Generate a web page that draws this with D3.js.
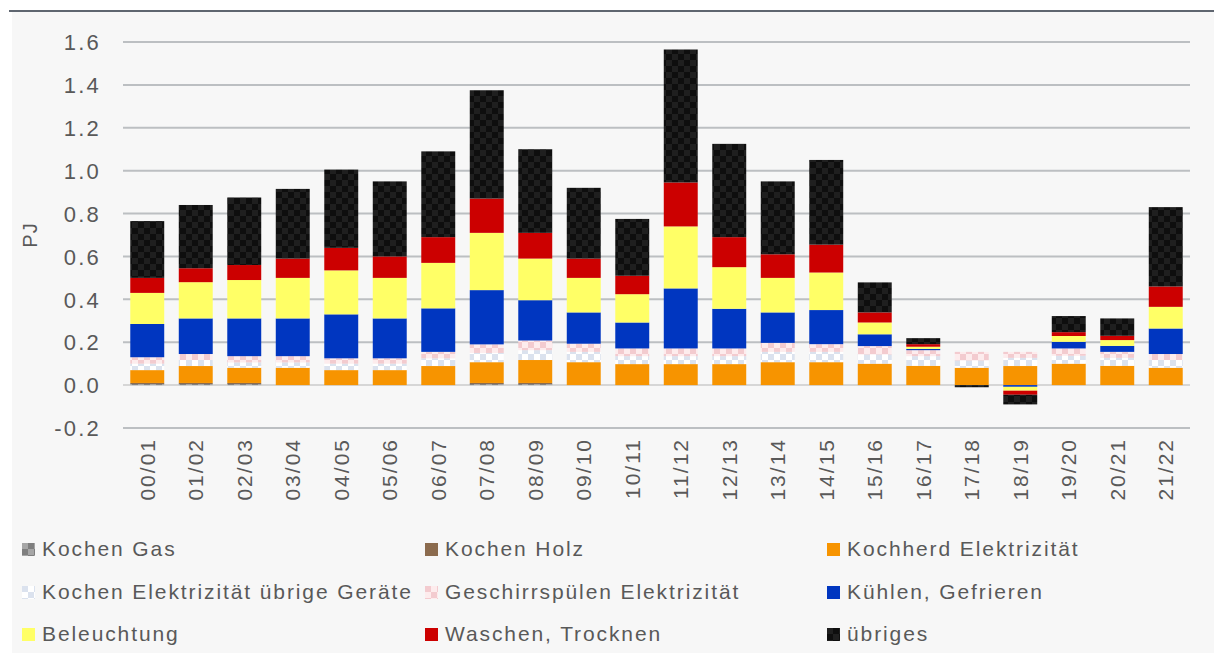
<!DOCTYPE html>
<html><head><meta charset="utf-8">
<script src="https://cdn.jsdelivr.net/npm/d3@7"></script>
<style>
html,body{margin:0;padding:0;background:#fff;}
svg{display:block;}
text{font-family:"Liberation Sans","Noto Sans",sans-serif;fill:#595959;}
</style></head>
<body>
<svg id="c" width="1214" height="653"></svg>
<script>
const categories = ["00/01","01/02","02/03","03/04","04/05","05/06","06/07","07/08","08/09","09/10","10/11","11/12","12/13","13/14","14/15","15/16","16/17","17/18","18/19","19/20","20/21","21/22"];
const seriesNames = ["Kochen Gas","Kochen Holz","Kochherd Elektrizität","Kochen Elektrizität übrige Geräte","Geschirrspülen Elektrizität","Kühlen, Gefrieren","Beleuchtung","Waschen, Trocknen","übriges"];
const kochenGas      = [0.005,0.005,0.005,0,0,0,0,0.005,0.005,0,0,0,0,0,0,0,0,0,0,0,0,0];
const kochenHolz     = [0.005,0.005,0.005,0,0,0,0,0.005,0.005,0,0,0,0,0,0,0,0,0,0,0,0,0];
const kochherdEl     = [0.060,0.079,0.071,0.081,0.070,0.070,0.089,0.097,0.107,0.107,0.098,0.098,0.098,0.107,0.107,0.100,0.090,0.081,0.089,0.100,0.090,0.081];
const kochenElUebr   = [0.030,0.028,0.025,0.025,0.030,0.030,0.036,0.043,0.046,0.048,0.037,0.037,0.037,0.048,0.048,0.043,0.045,0.034,0.038,0.037,0.037,0.036];
const geschirr       = [0.030,0.028,0.029,0.029,0.025,0.025,0.030,0.040,0.045,0.038,0.036,0.036,0.036,0.042,0.036,0.039,0.028,0.040,0.028,0.034,0.028,0.028];
const kuehlen        = [0.155,0.166,0.176,0.176,0.205,0.186,0.203,0.253,0.188,0.146,0.121,0.280,0.185,0.142,0.159,0.055,0.006,0,-0.008,0.031,0.028,0.119];
const beleuchtung    = [0.145,0.169,0.179,0.189,0.205,0.189,0.212,0.267,0.194,0.161,0.132,0.289,0.194,0.161,0.175,0.055,0.010,0,-0.018,0.027,0.027,0.101];
const waschen        = [0.070,0.065,0.070,0.090,0.105,0.100,0.120,0.160,0.120,0.090,0.086,0.205,0.140,0.110,0.130,0.047,0.012,0,-0.019,0.018,0.020,0.095];
const uebriges       = [0.265,0.295,0.315,0.325,0.365,0.350,0.400,0.505,0.390,0.330,0.265,0.620,0.435,0.340,0.395,0.140,0.028,-0.010,-0.045,0.075,0.081,0.370];
const yTicks = [-0.2,0,0.2,0.4,0.6,0.8,1.0,1.2,1.4,1.6];

const seriesValues = [kochenGas,kochenHolz,kochherdEl,kochenElUebr,geschirr,kuehlen,beleuchtung,waschen,uebriges];
const fills = ["url(#pGas)","#8b6b4e","#f79400","url(#pWhite)","url(#pPink)","#0036c0","#ffff66","#cc0000","url(#pBlack)"];

const table = categories.map((c,i)=>{const o={cat:c}; seriesNames.forEach((s,j)=>o[s]=seriesValues[j][i]); return o;});

const svg = d3.select("#c");
const defs = svg.append("defs");
function checker(id,a,b,s){
  const p = defs.append("pattern").attr("id",id).attr("patternUnits","userSpaceOnUse").attr("width",2*s).attr("height",2*s);
  p.append("rect").attr("width",2*s).attr("height",2*s).attr("fill",a);
  p.append("rect").attr("x",s).attr("width",s).attr("height",s).attr("fill",b);
  p.append("rect").attr("y",s).attr("width",s).attr("height",s).attr("fill",b);
}
checker("pGas","#7f7f7f","#a6a6a6",6);
checker("pWhite","#ffffff","#dbe2ee",6);
checker("pPink","#fdeced","#f3cbcf",6);
checker("pBlack","#0e0e0e","#1f1f1f",6);

// background
svg.append("rect").attr("x",12).attr("y",12).attr("width",1202).attr("height",641).attr("fill","#f7f7f7");
svg.append("line").attr("x1",9).attr("x2",1214).attr("y1",11).attr("y2",11).attr("stroke","#5f6670").attr("stroke-width",2);

const x = d3.scaleBand().domain(categories).range([123,1190]).paddingInner(0.3).paddingOuter(0.15);
const y = d3.scaleLinear().domain([-0.2,1.6]).range([428,42]);

// gridlines
svg.append("g").selectAll("line").data(yTicks).join("line")
  .attr("x1",123).attr("x2",1190).attr("y1",d=>y(d)).attr("y2",d=>y(d))
  .attr("stroke",d=>d===0?"#d6d6d6":"#bcbfc2").attr("stroke-width",2);

// y axis labels
const fmt = d3.format(".1f");
const yAxis = d3.axisLeft(y).tickValues(yTicks).tickFormat(d=>fmt(d).replace("\u2212","-")).tickSize(0).tickPadding(22);
const gy = svg.append("g").attr("transform","translate(123,0)").call(yAxis);
gy.select(".domain").remove();
gy.selectAll("text").style("font-size","22px").style("letter-spacing","2.2px").attr("fill","#595959").attr("dy","0.35em");

// bars
const stack = d3.stack().keys(seriesNames).offset(d3.stackOffsetDiverging);
const stacked = stack(table);
svg.append("g").selectAll("g").data(stacked).join("g")
  .attr("fill",(d,i)=>fills[i])
  .selectAll("rect").data(d=>d).join("rect")
  .attr("x",d=>x(d.data.cat)).attr("width",x.bandwidth())
  .attr("y",d=>y(Math.max(d[0],d[1]))).attr("height",d=>Math.abs(y(d[0])-y(d[1])));

// x axis labels
const xAxis = d3.axisBottom(x).tickSize(0).tickPadding(0);
const gx = svg.append("g").attr("transform","translate(0,438)").call(xAxis);
gx.select(".domain").remove();
gx.selectAll("text").style("font-size","21px").style("letter-spacing","2px").attr("fill","#595959")
  .attr("transform","rotate(-90)").attr("text-anchor","end").attr("x",0).attr("y",0).attr("dy","0.35em");

// axis title
svg.append("text").attr("transform","translate(37,235) rotate(-90)").attr("text-anchor","middle")
  .style("font-size","20px").style("letter-spacing","1px").text("PJ");

// legend
const legCols = [22,425,827];
const legRows = [549,592,634];
const leg = svg.append("g").selectAll("g").data(seriesNames).join("g")
  .attr("transform",(d,i)=>`translate(${legCols[i%3]},${legRows[Math.floor(i/3)]})`);
leg.append("rect").attr("x",0).attr("y",-6).attr("width",13).attr("height",13).attr("fill",(d,i)=>fills[i]);
leg.append("text").attr("x",20).attr("dy","0.35em").style("font-size","21px").style("letter-spacing","1.9px").text(d=>d);
</script>
</body></html>
